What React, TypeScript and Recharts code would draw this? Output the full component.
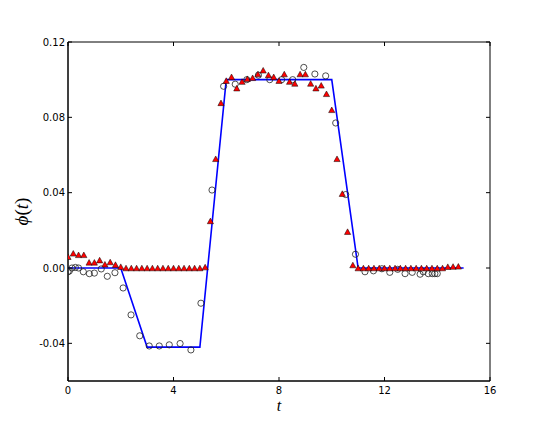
import React from 'react';
import { ComposedChart, Line, Scatter, XAxis, YAxis, ReferenceArea, Label } from 'recharts';

// Blue model line
const lineT = [0, 2, 3, 5, 6, 10, 11, 15];
const linePhi = [0, 0, -0.042, -0.042, 0.1, 0.1, 0, 0];

// Red triangles
const triT = [
  0, 0.2, 0.4, 0.6, 0.8, 1.0, 1.2, 1.4, 1.6, 1.8, 2.0,
  2.2, 2.4, 2.6, 2.8, 3.0, 3.2, 3.4, 3.6, 3.8, 4.0, 4.2, 4.4, 4.6, 4.8, 5.0,
  5.2, 5.4, 5.6, 5.8, 6.0, 6.2, 6.4, 6.6, 6.8, 7.0, 7.2, 7.4, 7.6, 7.8, 8.0,
  8.2, 8.4, 8.6, 8.8, 9.0, 9.2, 9.4, 9.6, 9.8, 10.0, 10.2, 10.4, 10.6, 10.8,
  11.0, 11.2, 11.4, 11.6, 11.8, 12.0, 12.2, 12.4, 12.6, 12.8, 13.0, 13.2, 13.4, 13.6, 13.8, 14.0, 14.2,
  14.4, 14.6, 14.8,
];
const triPhi = [
  0.006, 0.0078, 0.007, 0.007, 0.003, 0.003, 0.0042, 0.002, 0.0032, 0.0018, 0.0007,
  0, 0, 0, 0, 0, 0, 0, 0, 0, 0, 0, 0, 0, 0, 0,
  0.0005, 0.025, 0.058, 0.0877, 0.0995, 0.1015, 0.0955, 0.099, 0.1005, 0.101, 0.103, 0.105, 0.1025, 0.1015, 0.0995,
  0.103, 0.099, 0.098, 0.103, 0.103, 0.098, 0.0955, 0.097, 0.0925, 0.084, 0.058, 0.0395, 0.0193, 0.0016,
  0, 0, 0, 0, 0, 0, 0, 0, 0, 0, 0, 0, 0, 0, 0, 0, 0,
  0.0007, 0.0008, 0.0009,
];

// Open circles
const cirT = [
  0.0, 0.05, 0.15, 0.28, 0.4, 0.58, 0.81, 1.0, 1.26, 1.49, 1.78,
  2.09, 2.39, 2.72, 3.08, 3.46, 3.84, 4.25, 4.66, 5.04, 5.46, 5.9, 6.34, 6.78,
  7.22, 7.65, 8.1, 8.52, 8.94, 9.36, 9.77, 10.15, 10.53, 10.9,
  11.26, 11.58, 11.9, 12.2, 12.5, 12.78, 13.05, 13.35, 13.47, 13.66, 13.81, 13.91, 14.0,
];
const cirPhi = [
  -0.002, -0.0016, 0.0, 0.0003, 0.0, -0.002, -0.003, -0.0027, -0.0005, -0.0044, -0.0025,
  -0.0106, -0.0249, -0.036, -0.0414, -0.0414, -0.0408, -0.0401, -0.0435, -0.0187, 0.0414, 0.0965, 0.0976, 0.1,
  0.1024, 0.1, 0.1, 0.1, 0.1065, 0.103, 0.102, 0.077, 0.039, 0.0073,
  -0.002, -0.0015, -0.0004, -0.0023, -0.0007, -0.003, -0.0023, -0.0033, -0.002, -0.003, -0.003, -0.003, -0.003,
];

const xTicks = [0, 4, 8, 12, 16];
const yTicks = [-0.04, 0, 0.04, 0.08, 0.12];

const lineData = lineT.map((t, i) => ({ t, phi: linePhi[i] }));
const triData = triT.map((t, i) => ({ t, phi: triPhi[i] }));
const cirData = cirT.map((t, i) => ({ t, phi: cirPhi[i] }));

const W = 545;
const H = 425;
const M = { top: 42, right: 55, bottom: 0, left: 0 };
const YW = 68;
const XH = 44;
const PLOT_W = W - M.left - M.right - YW;
const PLOT_H = H - M.top - M.bottom - XH;
const TICK_FONT = 'DejaVu Sans, sans-serif';

const XTick = (props: any) => {
  const { x, y, payload } = props;
  return (
    <g>
      <line x1={x} x2={x} y1={y} y2={y - 4} stroke="#000" strokeWidth={1} />
      <line x1={x} x2={x} y1={y - PLOT_H} y2={y - PLOT_H + 4} stroke="#000" strokeWidth={1} />
      <text x={x} y={y + 13} textAnchor="middle" fontSize={10} fontFamily={TICK_FONT} fill="#000">
        {String(payload.value)}
      </text>
    </g>
  );
};

const YTick = (props: any) => {
  const { x, y, payload } = props;
  return (
    <g>
      <line x1={x} x2={x + 4} y1={y} y2={y} stroke="#000" strokeWidth={1} />
      <line x1={x + PLOT_W} x2={x + PLOT_W - 4} y1={y} y2={y} stroke="#000" strokeWidth={1} />
      <text x={x - 3} y={y + 3.6} textAnchor="end" fontSize={10} fontFamily={TICK_FONT} fill="#000">
        {Number(payload.value).toFixed(2)}
      </text>
    </g>
  );
};

const Triangle = (props: any) => {
  const { cx, cy } = props;
  const w = 6.2;
  const h = 5.6;
  const pts = `${cx},${cy - h / 2} ${cx - w / 2},${cy + h / 2} ${cx + w / 2},${cy + h / 2}`;
  return <polygon points={pts} fill="#ff0000" stroke="#000" strokeWidth={0.5} />;
};

const Circle = (props: any) => {
  const { cx, cy } = props;
  return <circle cx={cx} cy={cy} r={3.1} fill="none" stroke="#222" strokeWidth={0.8} />;
};

const YLabel = (props: any) => {
  const vb = props.viewBox || {};
  const cx = (vb.x || 0) + 21;
  const cy = (vb.y || 0) + (vb.height || 0) / 2;
  return (
    <text
      x={cx}
      y={cy}
      transform={`rotate(-90, ${cx}, ${cy})`}
      textAnchor="middle"
      dominantBaseline="central"
      fontSize={19}
      fontFamily="Liberation Serif, DejaVu Serif, serif"
      fill="#000"
    >
      <tspan fontStyle="italic">ϕ</tspan>(<tspan fontStyle="italic">t</tspan>)
    </text>
  );
};

const XLabel = (props: any) => {
  const vb = props.viewBox || {};
  const cx = (vb.x || 0) + (vb.width || 0) / 2;
  const cy = (vb.y || 0) + 30;
  return (
    <text
      x={cx}
      y={cy}
      textAnchor="middle"
      fontSize={16}
      fontStyle="italic"
      fontFamily="Liberation Serif, DejaVu Serif, serif"
      fill="#000"
    >
      t
    </text>
  );
};

export default function App() {
  return (
    <div style={{ position: 'absolute', left: 0, top: 0, width: W, height: H, background: '#fff' }}>
      <ComposedChart width={W} height={H} margin={M}>
        <XAxis
          dataKey="t"
          type="number"
          domain={[0, 16]}
          ticks={xTicks}
          interval={0}
          height={XH}
          tickSize={0}
          tickMargin={0}
          tickLine={false}
          tick={<XTick />}
          axisLine={{ stroke: '#000', strokeWidth: 1 }}
          allowDataOverflow
        >
          <Label content={<XLabel />} />
        </XAxis>
        <YAxis
          dataKey="phi"
          type="number"
          domain={[-0.06, 0.12]}
          ticks={yTicks}
          interval={0}
          width={YW}
          tickSize={0}
          tickMargin={0}
          tickLine={false}
          tick={<YTick />}
          axisLine={{ stroke: '#000', strokeWidth: 1 }}
          allowDataOverflow
        >
          <Label content={<YLabel />} />
        </YAxis>
        <ReferenceArea x1={0} x2={16} y1={-0.06} y2={0.12} fill="none" stroke="#000" strokeWidth={1} ifOverflow="visible" />
        <Line
          data={lineData}
          dataKey="phi"
          type="linear"
          stroke="#0000ff"
          strokeWidth={1.6}
          dot={false}
          activeDot={false}
          isAnimationActive={false}
        />
        <Scatter data={cirData} dataKey="phi" shape={<Circle />} isAnimationActive={false} />
        <Scatter data={triData} dataKey="phi" shape={<Triangle />} isAnimationActive={false} />
      </ComposedChart>
    </div>
  );
}
